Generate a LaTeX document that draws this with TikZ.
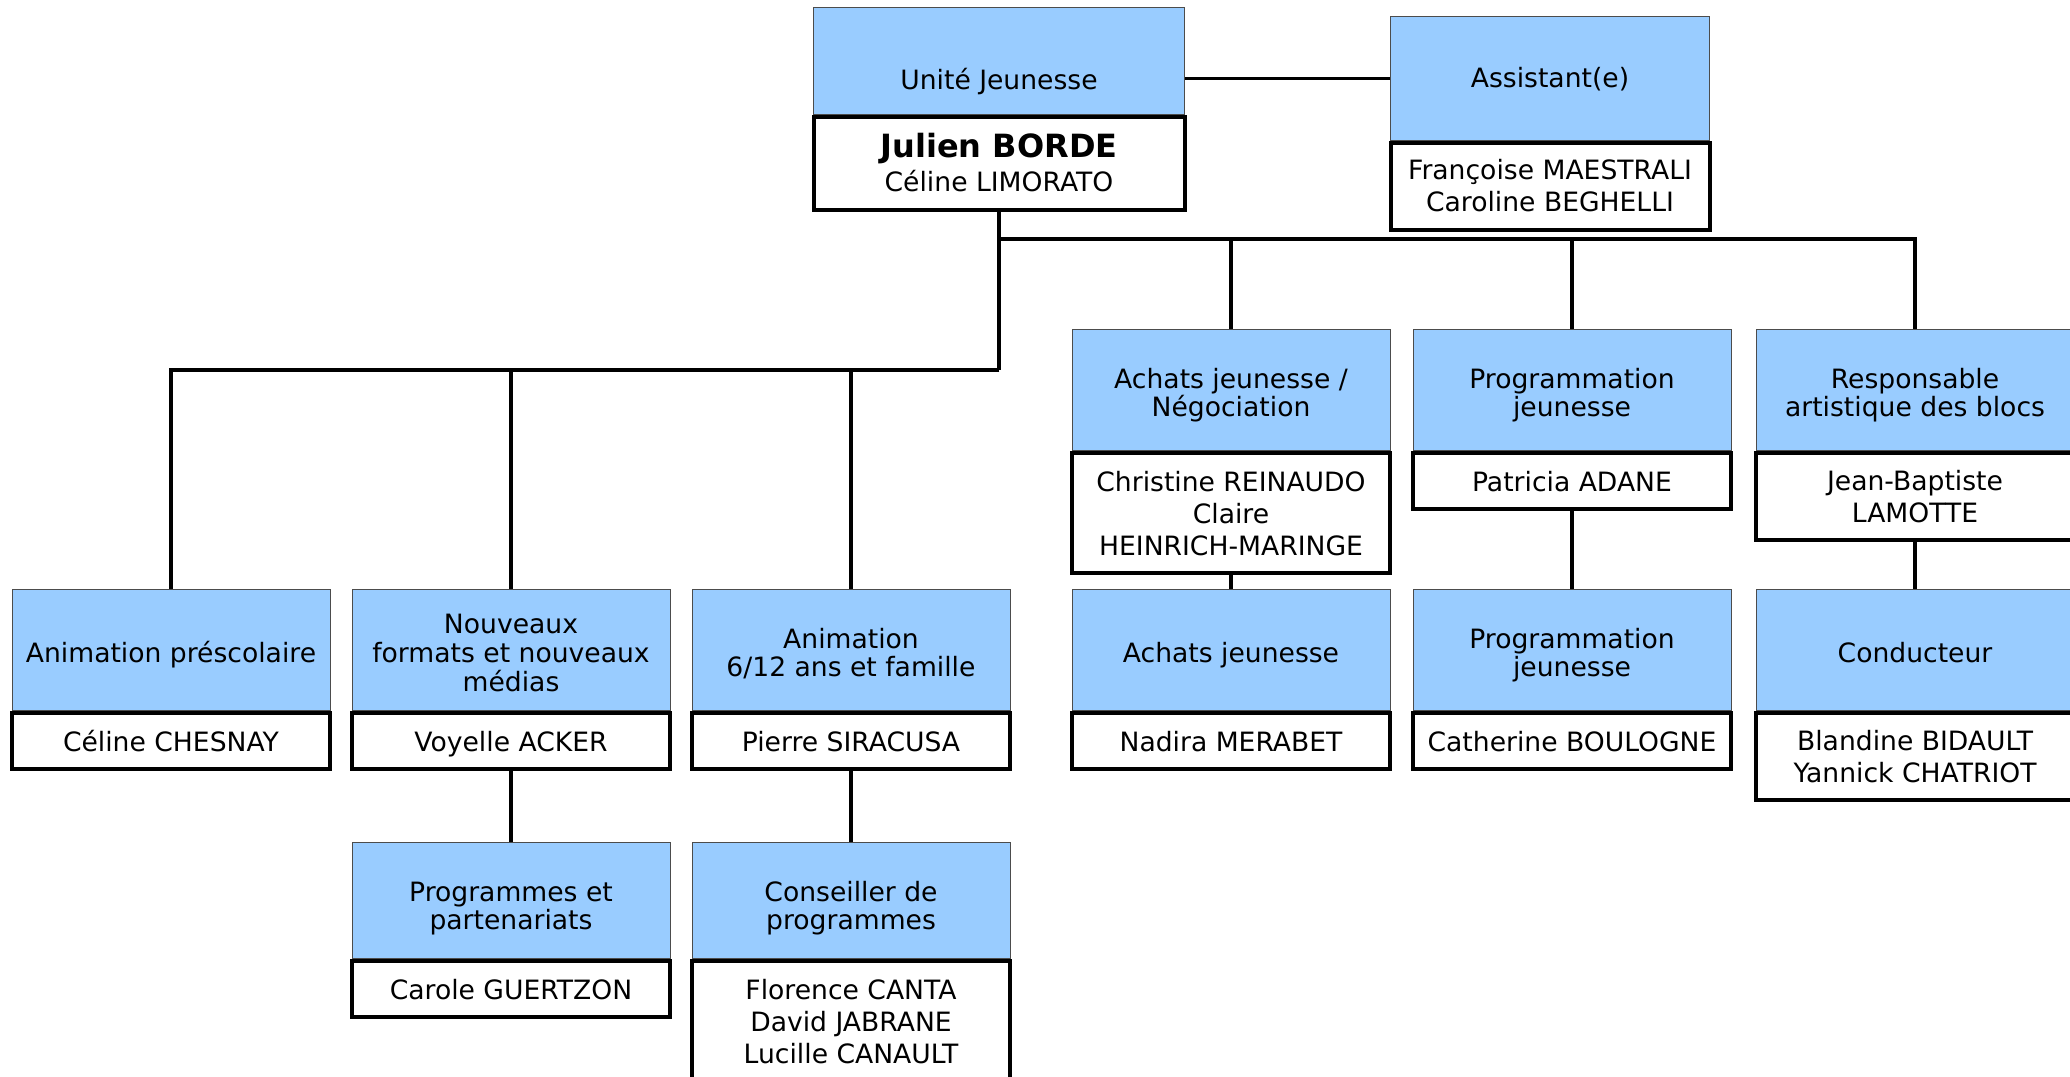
\documentclass[tikz,border=0pt]{standalone}
\usepackage{fontspec}
\setmainfont{DejaVu Sans}
\usepackage{xcolor}
\usepackage{tikz}
\usetikzlibrary{positioning}
\definecolor{bleuposte}{HTML}{99CCFF}

\begin{document}
\begin{tikzpicture}[
      x=0.5pt, y=-0.5pt,
      poste/.style={fill=bleuposte, draw=black!70, line width=0.5pt,
        minimum width=159pt, minimum height=60.5pt, inner sep=2pt,
        align=center, font=\fontsize{13.3pt}{14.3pt}\selectfont, anchor=north,
        text height=16pt, text depth=3.5pt},
      poste2/.style={poste, text height=30.3pt},
      poste3/.style={poste, text height=44.6pt},
      nom/.style={fill=white, draw=black, line width=2pt,
        minimum width=159pt, minimum height=28pt, inner sep=2pt,
        align=center, font=\fontsize{13.3pt}{16pt}\selectfont, below=0pt of #1,
        text height=13.5pt, text depth=3.5pt},
      nom2/.style={nom=#1, minimum height=43.5pt, text height=29.5pt},
      nom3/.style={nom=#1, minimum height=60pt, text height=45.5pt},
      lien/.style={line width=1.9pt}
    ]
    % Cadre de la page
    \useasboundingbox (0,0) rectangle (2070,1076);
    \clip (0,0) rectangle (2070,1076);

    % Direction et assistance
    \node[poste, minimum width=185.5pt, minimum height=53.5pt, text height=28pt, text depth=0pt] (chef) at (999,7) {Unité Jeunesse};
    \node[nom2=chef, minimum width=185.5pt, minimum height=46.5pt, text height=29.5pt, text depth=2pt] (chefnom) {\fontsize{16pt}{16pt}\bfseries Julien BORDE\\[1pt] Céline LIMORATO};
    \node[poste, minimum width=159.5pt, minimum height=62pt, text height=12pt, text depth=2.7pt] (asst) at (1550,16) {Assistant(e)};
    \node[nom2=asst, minimum width=159.5pt, text height=28.5pt] (asstnom) {Françoise MAESTRALI\\Caroline BEGHELLI};

    % Premier niveau, a droite
    \node[poste2] (achat) at (1231,329) {Achats jeunesse /\\Négociation};
    \node[nom3=achat] (achatnom) {Christine REINAUDO\\Claire\\HEINRICH-MARINGE};
    \node[poste2] (progA) at (1572,329) {Programmation\\jeunesse};
    \node[nom=progA] (progAnom) {Patricia ADANE};
    \node[poste2] (resp) at (1915,329) {Responsable\\artistique des blocs};
    \node[nom2=resp] (respnom) {Jean-Baptiste\\LAMOTTE};

    % Deuxieme niveau
    \node[poste] (presco) at (171,589) {Animation préscolaire};
    \node[nom=presco] (presconom) {Céline CHESNAY};
    \node[poste3] (nouv) at (511,589) {Nouveaux\\formats et nouveaux\\médias};
    \node[nom=nouv] (nouvnom) {Voyelle ACKER};
    \node[poste2] (anim) at (851,589) {Animation\\6/12 ans et famille};
    \node[nom=anim] (animnom) {Pierre SIRACUSA};
    \node[poste] (achatB) at (1231,589) {Achats jeunesse};
    \node[nom=achatB] (achatBnom) {Nadira MERABET};
    \node[poste2] (progB) at (1572,589) {Programmation\\jeunesse};
    \node[nom=progB] (progBnom) {Catherine BOULOGNE};
    \node[poste] (cond) at (1915,589) {Conducteur};
    \node[nom2=cond] (condnom) {Blandine BIDAULT\\Yannick CHATRIOT};

    % Troisieme niveau
    \node[poste2, minimum height=58pt, text height=32.9pt] (part) at (511,842) {Programmes et\\partenariats};
    \node[nom=part] (partnom) {Carole GUERTZON};
    \node[poste2, minimum height=58pt, text height=32.9pt] (cons) at (851,842) {Conseiller de\\programmes};
    \node[nom3=cons] (consnom) {Florence CANTA\\David JABRANE\\Lucille CANAULT};

    % Points de jonction
    \coordinate (busD) at (999,239);
    \coordinate (busG) at (999,370);

    % Liaisons
    \draw[lien] (asst.west) -- (asst.west -| chef.east);
    \draw[lien] (chefnom.south) -- (busG);
    \foreach \n in {achat, progA, resp} \draw[lien] (busD) -| (\n.north);
    \foreach \n in {presco, nouv, anim} \draw[lien] (busG) -| (\n.north);
    \foreach \a/\b in {achatnom/achatB, progAnom/progB, respnom/cond, nouvnom/part, animnom/cons}
      \draw[lien] (\a.south) -- (\b.north);
  \end{tikzpicture}
\end{document}
